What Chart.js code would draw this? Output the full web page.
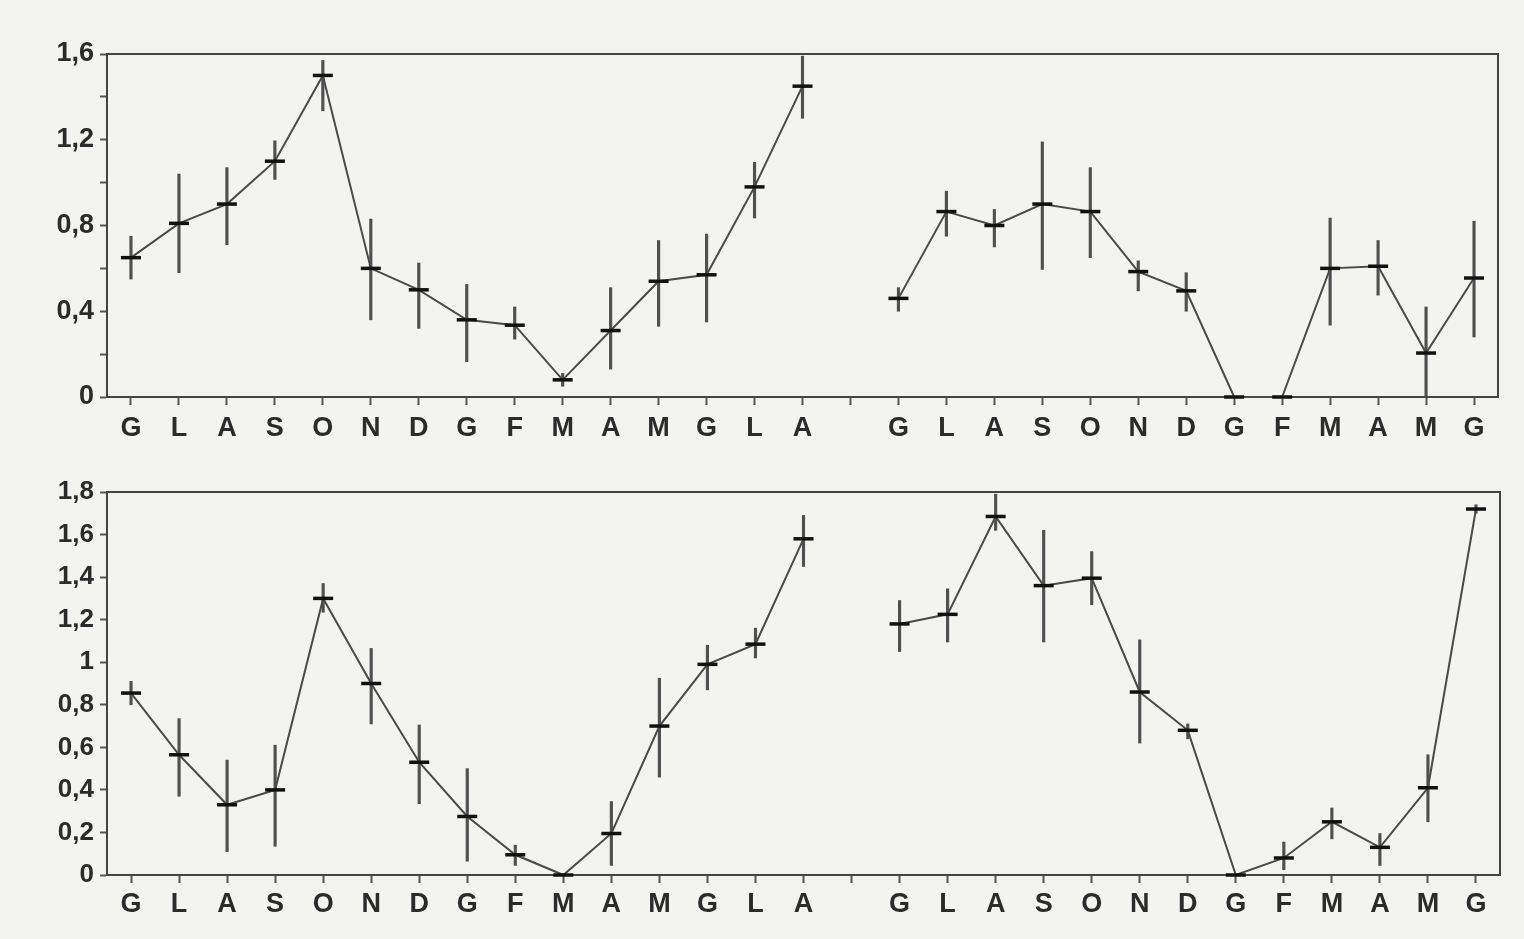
<!DOCTYPE html>
<html>
<head>
<meta charset="utf-8">
<script src="https://cdn.jsdelivr.net/npm/chart.js@4.4.1/dist/chart.umd.min.js"></script>
<style>
  html, body { margin: 0; padding: 0; background: #f3f3ef; }
  .panel { position: absolute; left: 0; width: 1524px; }
  #top { top: 0; height: 460px; }
  #bottom { top: 460px; height: 479px; }
</style>
</head>
<body>
<div class="panel" id="top"><canvas id="chartTop"></canvas></div>
<div class="panel" id="bottom"><canvas id="chartBottom"></canvas></div>
<script>
// months of the two sampling years (gap between them on the axis)
const months1 = ['G', 'L', 'A', 'S', 'O', 'N', 'D', 'G', 'F', 'M', 'A', 'M', 'G', 'L', 'A'];
const months2 = ['G', 'L', 'A', 'S', 'O', 'N', 'D', 'G', 'F', 'M', 'A', 'M', 'G'];

// top panel
const top1 = [0.65, 0.81, 0.90, 1.10, 1.50, 0.60, 0.50, 0.36, 0.335, 0.08, 0.31, 0.54, 0.57, 0.98, 1.45];
const top1Lo = [0.55, 0.58, 0.71, 1.015, 1.335, 0.36, 0.32, 0.165, 0.27, 0.05, 0.13, 0.33, 0.35, 0.835, 1.30];
const top1Hi = [0.75, 1.04, 1.07, 1.195, 1.57, 0.83, 0.625, 0.525, 0.42, 0.11, 0.51, 0.73, 0.76, 1.095, 1.59];
const top2 = [0.46, 0.865, 0.80, 0.90, 0.865, 0.585, 0.495, 0, 0, 0.60, 0.61, 0.205, 0.555];
const top2Lo = [0.40, 0.75, 0.70, 0.595, 0.65, 0.495, 0.40, null, null, 0.335, 0.475, 0, 0.28];
const top2Hi = [0.51, 0.96, 0.875, 1.19, 1.07, 0.635, 0.58, null, null, 0.835, 0.73, 0.42, 0.82];

// bottom panel
const bot1 = [0.855, 0.565, 0.33, 0.40, 1.30, 0.90, 0.53, 0.275, 0.095, 0, 0.195, 0.70, 0.99, 1.085, 1.58];
const bot1Lo = [0.80, 0.37, 0.11, 0.135, 1.235, 0.71, 0.335, 0.065, 0.045, null, 0.045, 0.46, 0.87, 1.02, 1.45];
const bot1Hi = [0.91, 0.735, 0.54, 0.61, 1.37, 1.065, 0.705, 0.50, 0.14, null, 0.345, 0.925, 1.08, 1.16, 1.69];
const bot2 = [1.18, 1.225, 1.685, 1.36, 1.395, 0.86, 0.68, 0, 0.08, 0.25, 0.13, 0.41, 1.72];
const bot2Lo = [1.05, 1.095, 1.62, 1.095, 1.27, 0.62, 0.64, null, 0.025, 0.17, 0.045, 0.25, 1.70];
const bot2Hi = [1.29, 1.345, 1.79, 1.62, 1.52, 1.105, 0.71, null, 0.155, 0.315, 0.195, 0.565, 1.74];

const labels = [...months1, '', ...months2];

function joinSeries(a, b) {
    return [...a, null, ...b];
}
function errorBars(lo1, hi1, lo2, hi2) {
    const lo = joinSeries(lo1, lo2), hi = joinSeries(hi1, hi2);
    return lo.map((l, i) => (l === null || hi[i] === null) ? null : [l, hi[i]]);
}

const ink = '#2b2b2b';

// box around the plot area, drawn under the marks
const frame = {
    id: 'frame',
    beforeDatasetsDraw(chart) {
        const a = chart.chartArea, ctx = chart.ctx;
        ctx.save();
        ctx.strokeStyle = '#444';
        ctx.lineWidth = 2;
        ctx.strokeRect(a.left, a.top, a.right - a.left, a.bottom - a.top);
        ctx.restore();
    }
};

function makeChart(id, opts) {
    new Chart(document.getElementById(id).getContext('2d'), {
        data: {
            labels: labels,
            datasets: [{
                type: 'line',
                data: joinSeries(opts.s1, opts.s2),
                borderColor: '#4a4a4a',
                borderWidth: 2,
                pointStyle: 'line',
                pointRadius: 10,
                pointBorderWidth: 3.5,
                pointBorderColor: '#111',
                spanGaps: false,
                tension: 0,
                clip: false,
                order: 1
            }, {
                type: 'bar',
                data: errorBars(opts.lo1, opts.hi1, opts.lo2, opts.hi2),
                backgroundColor: '#505050',
                barThickness: 2.5,
                borderSkipped: false,
                clip: false,
                order: 2
            }]
        },
        options: {
            responsive: true,
            maintainAspectRatio: false,
            animation: false,
            layout: { padding: opts.padding },
            plugins: { legend: { display: false }, tooltip: { enabled: false } },
            scales: {
                x: {
                    type: 'category',
                    offset: true,
                    grid: { display: true, offset: false, drawOnChartArea: false, tickLength: 8, tickWidth: 2, tickColor: '#555' },
                    border: { color: '#444', width: 2 },
                    ticks: {
                        color: ink, padding: opts.xPad, autoSkip: false, maxRotation: 0,
                        font: { family: 'Liberation Sans, Arial, sans-serif', size: 27, weight: 'bold' }
                    },
                    afterFit(s) { s.height = opts.xHeight; s.paddingLeft = 0; s.paddingRight = 0; }
                },
                y: {
                    min: 0,
                    max: opts.max,
                    grid: { display: true, drawOnChartArea: false, tickLength: 7, tickWidth: 2, tickColor: '#555' },
                    border: { color: '#444', width: 2 },
                    ticks: {
                        stepSize: opts.step,
                        color: ink,
                        padding: 6,
                        font: { family: 'Liberation Sans, Arial, sans-serif', size: opts.yFont, weight: 'bold' },
                        callback: function(v) {
                            const t = Math.round(v * 10);
                            if (t % opts.labelEvery !== 0) return '';
                            return String(t / 10).replace('.', ',');
                        }
                    },
                    afterFit(s) { s.width = 107; s.paddingTop = 0; s.paddingBottom = 0; }
                }
            }
        },
        plugins: [frame]
    });
}

makeChart('chartTop', {
    s1: top1, s2: top2, lo1: top1Lo, hi1: top1Hi, lo2: top2Lo, hi2: top2Hi,
    max: 1.6, step: 0.2, labelEvery: 4, yFont: 27, xPad: 7,
    padding: { top: 54, right: 26, bottom: 0, left: 0 }, xHeight: 63
});

makeChart('chartBottom', {
    s1: bot1, s2: bot2, lo1: bot1Lo, hi1: bot1Hi, lo2: bot2Lo, hi2: bot2Hi,
    max: 1.8, step: 0.1, labelEvery: 2, yFont: 26, xPad: 5,
    padding: { top: 32, right: 24, bottom: 0, left: 0 }, xHeight: 64
});
</script>
</body>
</html>
